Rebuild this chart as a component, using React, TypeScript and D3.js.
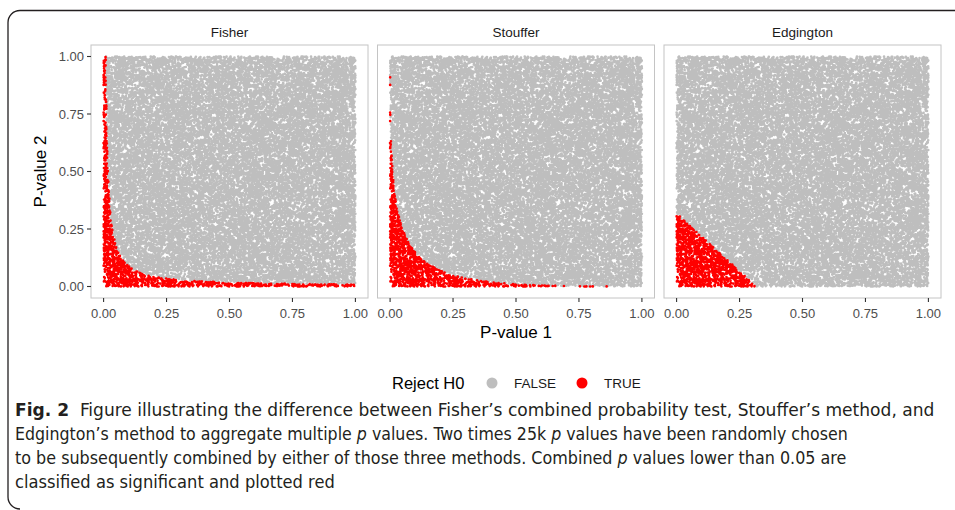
import React, { useEffect, useMemo, useRef } from 'react';
import * as d3 from 'd3';

// facet panels and axis ticks
const panels = ['Fisher', 'Stouffer', 'Edgington'];
const tickValues = [0, 0.25, 0.5, 0.75, 1];
const tickLabels = ['0.00', '0.25', '0.50', '0.75', '1.00'];
const legendLabels = ['FALSE', 'TRUE'];
const legendColors = ['#BEBEBE', '#FF0000'];

// the figure shows 25k uniformly drawn p value pairs; they are redrawn here
// with a fixed seed so every render is the same
const nPoints = 25000;
const seed = 0.2024;
const alpha = 0.05;

const captionLines = [
  [{ t: 'Fig. 2', b: true }, { t: '  Figure illustrating the difference between Fisher’s combined probability test, Stouffer’s method, and' }],
  [{ t: 'Edgington’s method to aggregate multiple ' }, { t: 'p', i: true }, { t: ' values. Two times 25k ' }, { t: 'p', i: true }, { t: ' values have been randomly chosen' }],
  [{ t: 'to be subsequently combined by either of those three methods. Combined ' }, { t: 'p', i: true }, { t: ' values lower than 0.05 are' }],
  [{ t: 'classified as significant and plotted red' }],
];
const captionWidths = [920, 833, 832, 320];

// inverse normal cdf (Acklam)
function qnorm(p: number) {
  const a = [-39.69683028665376, 220.9460984245205, -275.9285104469687, 138.357751867269, -30.66479806614716, 2.506628277459239];
  const b = [-54.47609879822406, 161.5858368580409, -155.6989798598866, 66.80131188771972, -13.28068155288572];
  const c = [-0.007784894002430293, -0.3223964580411365, -2.400758277161838, -2.549732539343734, 4.374664141464968, 2.938163982698783];
  const d = [0.007784695709041462, 0.3224671290700398, 2.445134137142996, 3.754408661907416];
  const pl = 0.02425;
  if (p < pl) {
    const q = Math.sqrt(-2 * Math.log(p));
    return (((((c[0] * q + c[1]) * q + c[2]) * q + c[3]) * q + c[4]) * q + c[5]) / ((((d[0] * q + d[1]) * q + d[2]) * q + d[3]) * q + 1);
  }
  if (p > 1 - pl) {
    const q = Math.sqrt(-2 * Math.log(1 - p));
    return -(((((c[0] * q + c[1]) * q + c[2]) * q + c[3]) * q + c[4]) * q + c[5]) / ((((d[0] * q + d[1]) * q + d[2]) * q + d[3]) * q + 1);
  }
  const q = p - 0.5;
  const r = q * q;
  return (((((a[0] * r + a[1]) * r + a[2]) * r + a[3]) * r + a[4]) * r + a[5]) * q / (((((b[0] * r + b[1]) * r + b[2]) * r + b[3]) * r + b[4]) * r + 1);
}

function normCdf(z: number) {
  const t = 1 / (1 + 0.2316419 * Math.abs(z));
  const dd = 0.3989422804014327 * Math.exp(-z * z / 2);
  const prob = dd * t * (0.3193815 + t * (-0.3565638 + t * (1.781478 + t * (-1.821256 + t * 1.330274))));
  return z > 0 ? 1 - prob : prob;
}

function combined(method: string, p1: number, p2: number) {
  if (method === 'Fisher') {
    const prod = p1 * p2;
    return prod * (1 - Math.log(prod));
  }
  if (method === 'Stouffer') {
    const z = (qnorm(1 - p1) + qnorm(1 - p2)) / Math.SQRT2;
    return 1 - normCdf(z);
  }
  const s = p1 + p2;
  return s <= 1 ? (s * s) / 2 : 1 - ((2 - s) * (2 - s)) / 2;
}

const panelLeft = [91, 377.5, 664];
const panelW = 277;
const panelTop = 45;
const panelBottom = 298;
const r = 1.35;

export default function App() {
  const capRef = useRef<SVGGElement>(null);

  const pts = useMemo(() => {
    const rnd = d3.randomUniform.source(d3.randomLcg(seed))(0, 1);
    return d3.range(nPoints).map(() => [rnd(), rnd()]);
  }, []);

  const y = d3.scaleLinear().domain([-0.05, 1.05]).range([panelBottom, panelTop]);

  const paths = useMemo(() => panels.map((m, k) => {
    const x = d3.scaleLinear().domain([-0.05, 1.05]).range([panelLeft[k], panelLeft[k] + panelW]);
    let grey = '';
    let red = '';
    pts.forEach(([p1, p2]) => {
      const cx = x(p1);
      const cy = y(p2).toFixed(1);
      const s = `M${(cx + r).toFixed(1)},${cy}a${r},${r} 0 1,0 ${-2 * r},0a${r},${r} 0 1,0 ${2 * r},0`;
      if (combined(m, p1, p2) < alpha) red += s; else grey += s;
    });
    return { grey, red };
  }), [pts]);

  // squeeze each caption line horizontally to the reference's line width
  useEffect(() => {
    d3.select(capRef.current).selectAll<SVGTextElement, unknown>('text').each(function (_, i) {
      const w = this.getComputedTextLength();
      const sx = captionWidths[i] / w;
      const yy = 416 + i * 24;
      d3.select(this).attr('transform', `translate(15,${yy}) scale(${sx},1)`);
    });
  }, []);

  const font = "'Liberation Sans', Arial, Helvetica, sans-serif";

  return (
    <svg width={955} height={510} style={{ position: 'absolute', left: 0, top: 0, background: '#fff' }}>
      <path d="M955,10.5 H20 A12,12 0 0 0 8,22.5 V497 A12,12 0 0 0 20,509" fill="none" stroke="#231f20" strokeWidth={1.3} />

      {panels.map((m, k) => {
        const x = d3.scaleLinear().domain([-0.05, 1.05]).range([panelLeft[k], panelLeft[k] + panelW]);
        return (
          <g key={m}>
            <text x={panelLeft[k] + panelW / 2} y={37} textAnchor="middle" fontFamily={font} fontSize={13.5} fill="#1a1a1a">{m}</text>
            <path d={paths[k].grey} fill={legendColors[0]} />
            <path d={paths[k].red} fill={legendColors[1]} />
            <rect x={panelLeft[k]} y={panelTop} width={panelW} height={panelBottom - panelTop} fill="none" stroke="#c4c4c4" strokeWidth={1} />
            {tickValues.map((v, i) => (
              <g key={i}>
                <line x1={x(v)} x2={x(v)} y1={panelBottom} y2={panelBottom + 4} stroke="#333" strokeWidth={1.1} />
                <text x={x(v)} y={318} textAnchor="middle" fontFamily={font} fontSize={13} fill="#4d4d4d">{tickLabels[i]}</text>
              </g>
            ))}
          </g>
        );
      })}

      {tickValues.map((v, i) => (
        <g key={i}>
          <line x1={panelLeft[0] - 4} x2={panelLeft[0]} y1={y(v)} y2={y(v)} stroke="#333" strokeWidth={1.1} />
          <text x={panelLeft[0] - 7} y={y(v) + 4.5} textAnchor="end" fontFamily={font} fontSize={13} fill="#4d4d4d">{tickLabels[i]}</text>
        </g>
      ))}

      <text x={516} y={338} textAnchor="middle" fontFamily={font} fontSize={17} fill="#000">P-value 1</text>
      <text transform={`translate(46,${(panelTop + panelBottom) / 2}) rotate(-90)`} textAnchor="middle" fontFamily={font} fontSize={17} fill="#000">P-value 2</text>

      <g fontFamily={font}>
        <text x={392} y={389} fontSize={16.5} fill="#000">Reject H0</text>
        <circle cx={492} cy={383} r={5.5} fill={legendColors[0]} />
        <text x={514} y={388} fontSize={13.5} fill="#1a1a1a">{legendLabels[0]}</text>
        <circle cx={582} cy={383} r={5.5} fill={legendColors[1]} />
        <text x={604} y={388} fontSize={13.5} fill="#1a1a1a">{legendLabels[1]}</text>
      </g>

      <g ref={capRef} fontFamily="'DejaVu Sans Condensed', 'Liberation Sans Narrow', sans-serif" fontSize={18.5} fill="#231f20">
        {captionLines.map((line, i) => (
          <text key={i} transform={`translate(15,${416 + i * 24})`} xmlSpace="preserve">
            {line.map((s: any, j) => (
              <tspan key={j} fontWeight={s.b ? 'bold' : 'normal'} fontStyle={s.i ? 'italic' : 'normal'}>{s.t}</tspan>
            ))}
          </text>
        ))}
      </g>
    </svg>
  );
}
